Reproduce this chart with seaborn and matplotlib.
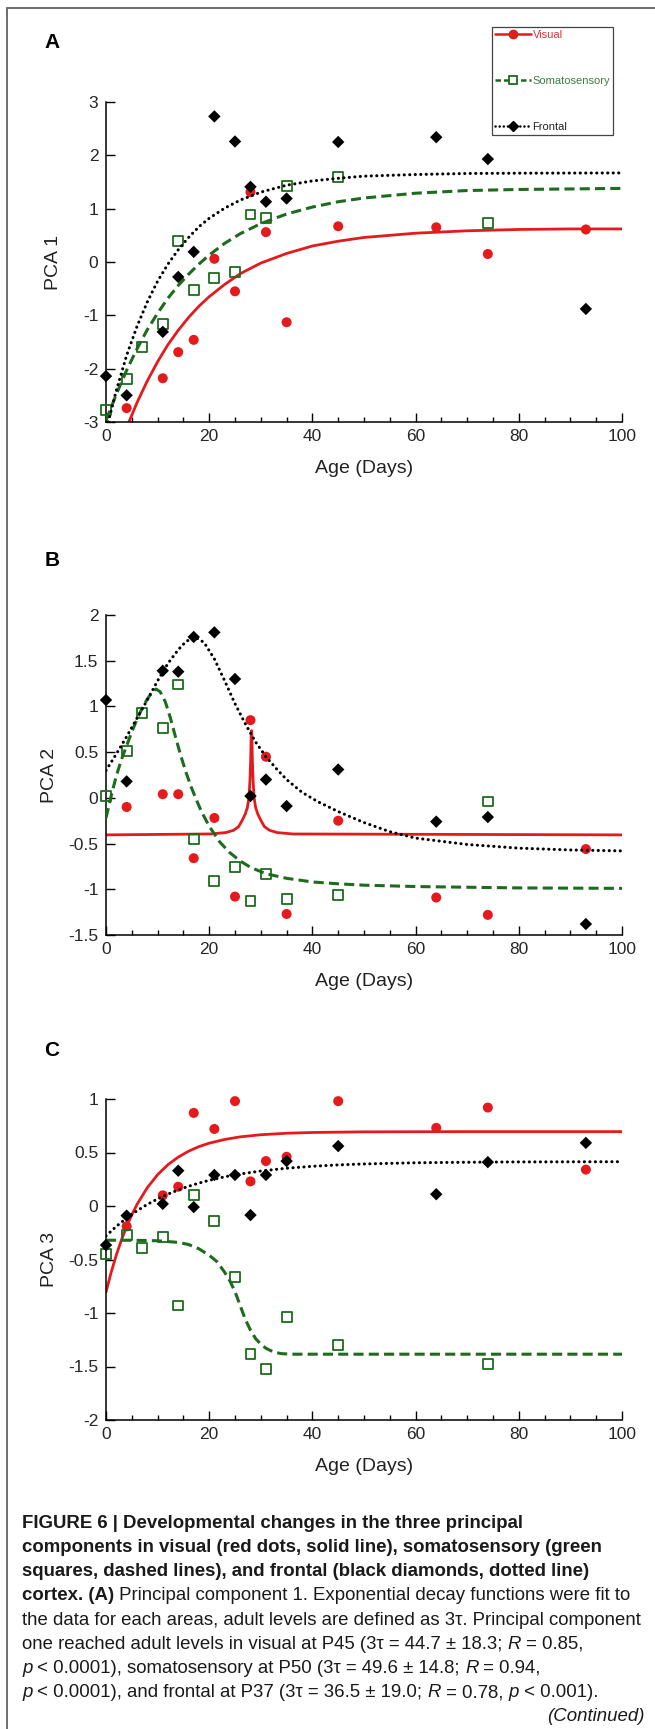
import numpy as np
import pandas as pd
import matplotlib
matplotlib.use("Agg")
import matplotlib.pyplot as plt
from matplotlib import font_manager
from matplotlib.lines import Line2D
from matplotlib.ticker import MultipleLocator
import seaborn as sns

nan = np.nan

# ages (days) of the samples, shared by the three panels
AGES = [0, 4, 7, 11, 14, 17, 21, 25, 28, 31, 35, 45, 64, 74, 93]

# panel A - PCA 1
pca1_visual = [nan, -2.74, nan, -2.18, -1.69, -1.46, 0.06, -0.55, 1.31, 0.56, -1.13, 0.67, 0.65, 0.15, 0.61]
pca1_somato = [-2.78, -2.2, -1.6, -1.16, 0.39, -0.52, -0.3, -0.18, 0.89, 0.82, 1.42, 1.59, nan, 0.73, nan]
pca1_frontal = [-2.14, -2.5, nan, -1.31, -0.28, 0.19, 2.73, 2.26, 1.41, 1.13, 1.19, 2.25, 2.34, 1.93, -0.88]

# panel B - PCA 2
pca2_visual = [nan, -0.10, nan, 0.04, 0.04, -0.66, -0.22, -1.08, 0.85, 0.45, -1.27, -0.25, -1.09, -1.28, -0.56]
pca2_somato = [0.02, 0.51, 0.93, 0.76, 1.24, -0.45, -0.91, -0.76, -1.13, -0.83, -1.11, -1.06, nan, -0.04, nan]
pca2_frontal = [1.07, 0.18, nan, 1.39, 1.38, 1.76, 1.81, 1.30, 0.02, 0.20, -0.09, 0.31, -0.26, -0.21, -1.38]

# panel C - PCA 3
pca3_visual = [nan, -0.19, nan, 0.10, 0.18, 0.87, 0.72, 0.98, 0.23, 0.42, 0.46, 0.98, 0.73, 0.92, 0.34]
pca3_somato = [-0.45, -0.27, -0.39, -0.29, -0.93, 0.10, -0.14, -0.66, -1.38, -1.52, -1.04, -1.30, nan, -1.48, nan]
pca3_frontal = [-0.365, -0.09, nan, 0.02, 0.33, -0.01, 0.29, 0.29, -0.085, 0.29, 0.42, 0.56, 0.11, 0.41, 0.59]

# fitted curves
fit1_vis_x = [4.45, 6, 8, 10, 12, 14, 16, 18, 20, 23, 26, 30, 35, 40, 45, 50, 60, 70, 80, 90, 100]
fit1_vis_y = [-3.0, -2.64, -2.23, -1.87, -1.55, -1.28, -1.04, -0.83, -0.65, -0.42, -0.22, -0.02, 0.16, 0.30,
              0.39, 0.46, 0.54, 0.585, 0.61, 0.62, 0.62]
fit1_som_x = [0, 2, 4, 6, 8, 10, 12, 14, 16, 18, 20, 23, 26, 30, 35, 40, 45, 50, 60, 70, 80, 90, 100]
fit1_som_y = [-2.97, -2.48, -2.03, -1.63, -1.27, -0.96, -0.68, -0.44, -0.23, -0.04, 0.13, 0.35, 0.53, 0.72,
              0.90, 1.03, 1.13, 1.20, 1.29, 1.34, 1.36, 1.37, 1.38]
fit1_fro_x = [0.43, 2, 4, 6, 8, 10, 12, 14, 16, 18, 20, 23, 26, 30, 35, 40, 45, 50, 60, 70, 80, 100]
fit1_fro_y = [-3.0, -2.41, -1.75, -1.21, -0.75, -0.36, -0.04, 0.23, 0.46, 0.66, 0.82, 1.01, 1.16, 1.31,
              1.44, 1.52, 1.57, 1.61, 1.64, 1.66, 1.665, 1.67]

fit2_vis_x = [0, 20.2, 23.2, 24.7, 25.7, 26.4, 27.0, 27.4, 27.7, 27.9, 28.05, 28.13, 28.2, 28.27, 28.35,
              28.5, 28.7, 29.0, 29.4, 30.0, 30.7, 31.7, 33.2, 36.2, 100]
fit2_vis_y = [-0.405, -0.395, -0.38, -0.355, -0.315, -0.245, -0.175, -0.105, 0.0, 0.195, 0.445, 0.68, 0.735,
              0.68, 0.445, 0.195, 0.0, -0.105, -0.175, -0.245, -0.315, -0.355, -0.38, -0.395, -0.405]
fit2_som_x = [0, 1, 2, 3, 4, 5, 6, 7, 8, 9, 9.7, 10.5, 11.5, 12.5, 13.5, 14.5, 15.5, 16.5, 17.5, 18.5, 20,
              22, 24, 26, 28, 31, 35, 40, 45, 50, 60, 80, 100]
fit2_som_y = [-0.22, 0.02, 0.24, 0.42, 0.57, 0.72, 0.86, 0.98, 1.08, 1.16, 1.19, 1.16, 1.05, 0.87, 0.66, 0.46,
              0.28, 0.12, -0.02, -0.15, -0.31, -0.48, -0.60, -0.69, -0.76, -0.83, -0.88, -0.92, -0.94,
              -0.955, -0.97, -0.985, -0.99]
fit2_fro_x = [0, 2, 4, 6, 8, 10, 12, 14, 15.5, 17.2, 19, 21, 23, 25, 27, 29, 31, 33, 35, 38, 41, 45, 50, 55,
              60, 70, 80, 90, 100]
fit2_fro_y = [0.30, 0.48, 0.67, 0.87, 1.07, 1.28, 1.47, 1.62, 1.71, 1.76, 1.70, 1.52, 1.28, 1.03, 0.81, 0.61,
              0.45, 0.32, 0.20, 0.06, -0.04, -0.15, -0.27, -0.37, -0.44, -0.51, -0.55, -0.57, -0.58]

fit3_vis_x = [0, 1, 2, 3, 4, 5, 6, 8, 10, 12, 14, 16, 18, 20, 23, 26, 30, 35, 40, 50, 70, 100]
fit3_vis_y = [-0.805, -0.62, -0.458, -0.316, -0.191, -0.082, 0.014, 0.171, 0.293, 0.386, 0.457, 0.512,
              0.555, 0.587, 0.622, 0.646, 0.666, 0.68, 0.687, 0.693, 0.695, 0.695]
fit3_som_x = [0, 5, 10, 14, 16, 18, 20, 21.5, 23, 24, 25, 26, 27, 28, 29, 30, 31, 32.5, 34, 36, 100]
fit3_som_y = [-0.32, -0.32, -0.325, -0.34, -0.36, -0.40, -0.46, -0.52, -0.62, -0.70, -0.80, -0.93, -1.06,
              -1.16, -1.24, -1.29, -1.33, -1.365, -1.38, -1.385, -1.385]
fit3_fro_x = [0, 2, 4, 6, 8, 10, 12, 14, 16, 18, 20, 23, 26, 30, 35, 40, 45, 50, 60, 70, 80, 100]
fit3_fro_y = [-0.28, -0.19, -0.113, -0.045, 0.015, 0.066, 0.111, 0.150, 0.184, 0.214, 0.240, 0.273, 0.299,
              0.327, 0.353, 0.371, 0.384, 0.393, 0.404, 0.409, 0.412, 0.414]

XTICKS = [0, 20, 40, 60, 80, 100]
YTICKS_A = [-3, -2, -1, 0, 1, 2, 3]
YTICKS_B = [-1.5, -1, -0.5, 0, 0.5, 1, 1.5, 2]
YTICKS_C = [-2, -1.5, -1, -0.5, 0, 0.5, 1]

LEGEND_LABELS = ['Visual', 'Somatosensory', 'Frontal']

CAPTION = [
    [("FIGURE 6 | Developmental changes in the three principal", "bold", "normal")],
    [("components in visual (red dots, solid line), somatosensory (green", "bold", "normal")],
    [("squares, dashed lines), and frontal (black diamonds, dotted line)", "bold", "normal")],
    [("cortex. (A)", "bold", "normal"),
     (" Principal component 1. Exponential decay functions were fit to", "normal", "normal")],
    [("the data for each areas, adult levels are defined as 3\u03c4. Principal component", "normal", "normal")],
    [("one reached adult levels in visual at P45 (3\u03c4 = 44.7 \u00b1 18.3; ", "normal", "normal"),
     ("R", "normal", "italic"), (" = 0.85,", "normal", "normal")],
    [("p", "normal", "italic"),
     (" < 0.0001), somatosensory at P50 (3\u03c4 = 49.6 \u00b1 14.8; ", "normal", "normal"),
     ("R", "normal", "italic"), (" = 0.94,", "normal", "normal")],
    [("p", "normal", "italic"),
     (" < 0.0001), and frontal at P37 (3\u03c4 = 36.5 \u00b1 19.0; ", "normal", "normal"),
     ("R", "normal", "italic"), (" = 0.78, ", "normal", "normal"),
     ("p", "normal", "italic"), (" < 0.001).", "normal", "normal")],
]
CONTINUED = "(Continued)"

W, H, DPI = 655, 1729, 100
RED = '#e41a1c'
GREEN = '#1d6b1d'
BLACK = '#000000'

sns.set_theme(style='ticks')
plt.rcParams['font.family'] = ['Liberation Sans', 'DejaVu Sans']
plt.rcParams['axes.unicode_minus'] = False


def has_font(name):
    try:
        font_manager.findfont(font_manager.FontProperties(family=name), fallback_to_default=False)
        return True
    except ValueError:
        return False


CAP_FONT = 'Liberation Sans Narrow' if has_font('Liberation Sans Narrow') else 'Liberation Sans'

fig = plt.figure(figsize=(W / DPI, H / DPI), dpi=DPI)
fig.patch.set_facecolor('white')


def add_axes_px(top, bottom, left=106, right=622):
    return fig.add_axes([left / W, 1 - bottom / H, (right - left) / W, (bottom - top) / H])


def draw_panel(ax, vis, som, fro, fits, yticks, ylabel, label_x):
    (vx, vy), (sx, sy), (fx, fy) = fits
    sns.lineplot(x=vx, y=vy, ax=ax, color=RED, linewidth=2.0, estimator=None, sort=False, zorder=2)
    sns.scatterplot(x=AGES, y=vis, ax=ax, color=RED, marker='o', s=52, edgecolor='none',
                    clip_on=False, zorder=3)
    sns.lineplot(x=sx, y=sy, ax=ax, color=GREEN, linewidth=2.2, estimator=None, sort=False,
                 linestyle=(0, (3.3, 1.7)), zorder=4)
    sq = sns.scatterplot(x=AGES, y=som, ax=ax, marker='s', s=50, facecolor='none', edgecolor=GREEN,
                         linewidth=1.3, clip_on=False, zorder=5)
    sq.collections[-1].set_facecolor('none')
    sq.collections[-1].set_edgecolor(GREEN)
    sns.lineplot(x=fx, y=fy, ax=ax, color=BLACK, linewidth=2.2, estimator=None, sort=False,
                 linestyle=(0, (0.05, 1.75)), dash_capstyle='round', zorder=6)
    sns.scatterplot(x=AGES, y=fro, ax=ax, color=BLACK, marker='D', s=40, edgecolor='none',
                    clip_on=False, zorder=7)

    ax.set_xlim(0, 100)
    ax.set_ylim(yticks[0], yticks[-1])
    ax.set_xticks(XTICKS, labels=[f'{v:g}' for v in XTICKS])
    ax.set_yticks(yticks, labels=[f'{v:g}' for v in yticks])
    ax.xaxis.set_minor_locator(MultipleLocator(5))
    sns.despine(ax=ax)
    for side in ('left', 'bottom'):
        ax.spines[side].set_linewidth(1.1)
        ax.spines[side].set_color('black')
    ax.tick_params(axis='both', which='major', direction='in', length=6.5, width=1.0,
                   color='black', labelsize=12.5, labelcolor='#262626')
    ax.tick_params(axis='x', which='major', pad=5)
    ax.tick_params(axis='y', which='major', pad=5.5)
    ax.tick_params(axis='x', which='minor', direction='in', length=3.6, width=1.0, color='black')
    ax.set_xlabel('Age (Days)', fontsize=14, color='#222222')
    ax.set_ylabel(ylabel, fontsize=14, color='#222222')
    ax.xaxis.set_label_coords(0.5, -0.144)
    ax.xaxis.label.set_verticalalignment('center')
    ax.yaxis.set_label_coords(label_x, 0.5)
    ax.yaxis.label.set_verticalalignment('center')
    ax.set_facecolor('white')


ax_a = add_axes_px(102, 422)
draw_panel(ax_a, pca1_visual, pca1_somato, pca1_frontal,
           [(fit1_vis_x, fit1_vis_y), (fit1_som_x, fit1_som_y), (fit1_fro_x, fit1_fro_y)],
           YTICKS_A, 'PCA 1', (54 - 106) / 516)
ax_b = add_axes_px(615, 935)
draw_panel(ax_b, pca2_visual, pca2_somato, pca2_frontal,
           [(fit2_vis_x, fit2_vis_y), (fit2_som_x, fit2_som_y), (fit2_fro_x, fit2_fro_y)],
           YTICKS_B, 'PCA 2', (50 - 106) / 516)
ax_c = add_axes_px(1099, 1420)
draw_panel(ax_c, pca3_visual, pca3_somato, pca3_frontal,
           [(fit3_vis_x, fit3_vis_y), (fit3_som_x, fit3_som_y), (fit3_fro_x, fit3_fro_y)],
           YTICKS_C, 'PCA 3', (50 - 106) / 516)

# panel letters
for letter, ypx in (('A', 43), ('B', 560), ('C', 1050)):
    fig.text(52 / W, 1 - ypx / H, letter, fontsize=15, fontweight='bold', ha='center', va='center',
             color='black')

# legend in the top right corner of panel A
handles = [
    Line2D([], [], color=RED, lw=1.8, marker='o', ms=6, mec=RED),
    Line2D([], [], color=GREEN, lw=1.8, ls=(0, (2.2, 1.2)), marker='s', ms=6, mfc='white',
           mec=GREEN, mew=1.3),
    Line2D([], [], color=BLACK, lw=1.8, ls=(0, (0.05, 1.6)), dash_capstyle='round', marker='D', ms=5),
]
leg = fig.legend(handles, LEGEND_LABELS, loc='upper left', bbox_to_anchor=(492 / W, 1 - 27 / H),
                 frameon=True, fancybox=False, framealpha=1, edgecolor='#444444', fontsize=8,
                 labelspacing=3.25, handlelength=3.3, handletextpad=0.1, borderpad=0.25,
                 borderaxespad=0)
leg.get_frame().set_linewidth(0.9)
for txt, col in zip(leg.get_texts(), ['#d9343a', '#3d7f3d', '#222222']):
    txt.set_color(col)

# page frame (left and top edge)
fig.add_artist(Line2D([7 / W, 7 / W], [0, 1 - 8 / H], color='#6e6e6e', lw=1.4, transform=fig.transFigure))
fig.add_artist(Line2D([7 / W, 1], [1 - 8 / H, 1 - 8 / H], color='#6e6e6e', lw=1.4, transform=fig.transFigure))

# caption, drawn run by run so bold / italic pieces line up
renderer = fig.canvas.get_renderer()


def advance(s, size, weight, style):
    kw = dict(fontsize=size, fontweight=weight, fontstyle=style, family=CAP_FONT)
    a = fig.text(0, 0, 'x' + s + 'x', **kw)
    b = fig.text(0, 0, 'xx', **kw)
    w = a.get_window_extent(renderer).width - b.get_window_extent(renderer).width
    a.remove()
    b.remove()
    return w


CAP_LEFT, CAP_RIGHT = 22, 645
ref_w = advance(CAPTION[4][0][0], 10, 'normal', 'normal')
cap_size = 10 * (CAP_RIGHT - CAP_LEFT) / ref_w
line_pitch = 24.2
first_base = 1521 + 0.36 * cap_size * DPI / 72

for i, runs in enumerate(CAPTION):
    x = CAP_LEFT
    base = first_base + i * line_pitch
    for s, weight, style in runs:
        fig.text(x / W, 1 - base / H, s, fontsize=cap_size, fontweight=weight, fontstyle=style,
                 family=CAP_FONT, ha='left', va='baseline', color='#1a1a1a')
        x += advance(s, cap_size, weight, style)

fig.text(CAP_RIGHT / W, 1 - (first_base + len(CAPTION) * line_pitch) / H, CONTINUED, fontsize=cap_size,
         fontstyle='italic', family=CAP_FONT, ha='right', va='baseline', color='#1a1a1a')

fig.savefig('out.png', dpi=DPI, facecolor='white')
